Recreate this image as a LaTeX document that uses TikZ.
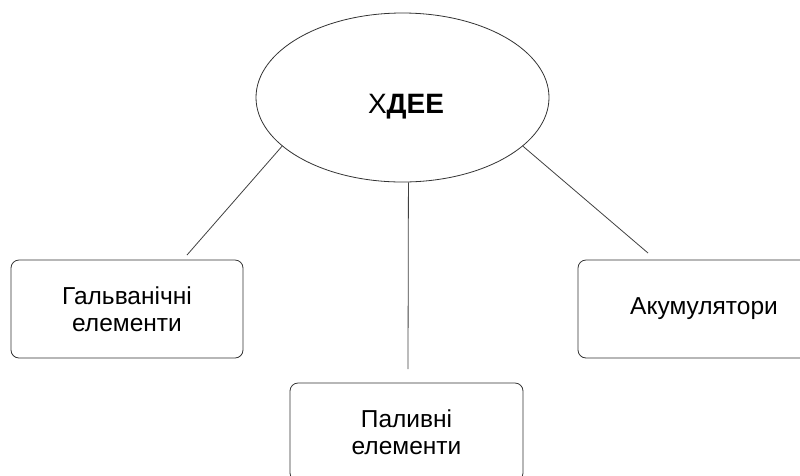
\documentclass[tikz,border=0pt]{standalone}
\usepackage{fontspec}
\setmainfont{Liberation Sans}
\usepackage{tikz}
\usetikzlibrary{shapes.geometric}

\begin{document}
\begin{tikzpicture}[
  x=1pt, y=-1pt,
  every node/.style={font=\fontsize{24.5}{27}\selectfont},
  hub/.style={draw=black!80, line width=0.8pt, ellipse,
    minimum width=293pt, minimum height=169pt, inner sep=0pt},
  kind/.style={draw=black!80, line width=0.8pt, rounded corners=8pt,
    minimum height=98pt, align=center, inner sep=0pt},
  link/.style={draw=black!75, line width=0.8pt},
]
\useasboundingbox (0,0) rectangle (800,475);

% Central ellipse
\node[hub] (hdee) at (402.5,97.5) {};
\node[font=\fontsize{28}{30}\selectfont] (hdeetxt) at (406,107) {Х\textbf{ДЕЕ}};

% Kinds of sources
\node[kind, minimum width=232pt] (galv) at (127,309) {Гальванічні\\елементи};
\node[kind, minimum width=233pt] (paly) at (406.5,432) {Паливні\\елементи};
\node[kind, minimum width=252pt] (akum) at (704,309) {Акумулятори};

% Free ends just above the boxes
\coordinate (galvtop) at (187,255);
\coordinate (palytop) at (408,369);
\coordinate (akumtop) at (648,253);

% Connectors
\draw[link] (hdee.202) -- (galvtop);
\draw[link] (hdee.274) -- (palytop);
\draw[link] (hdee.338) -- (akumtop);

\end{tikzpicture}
\end{document}
